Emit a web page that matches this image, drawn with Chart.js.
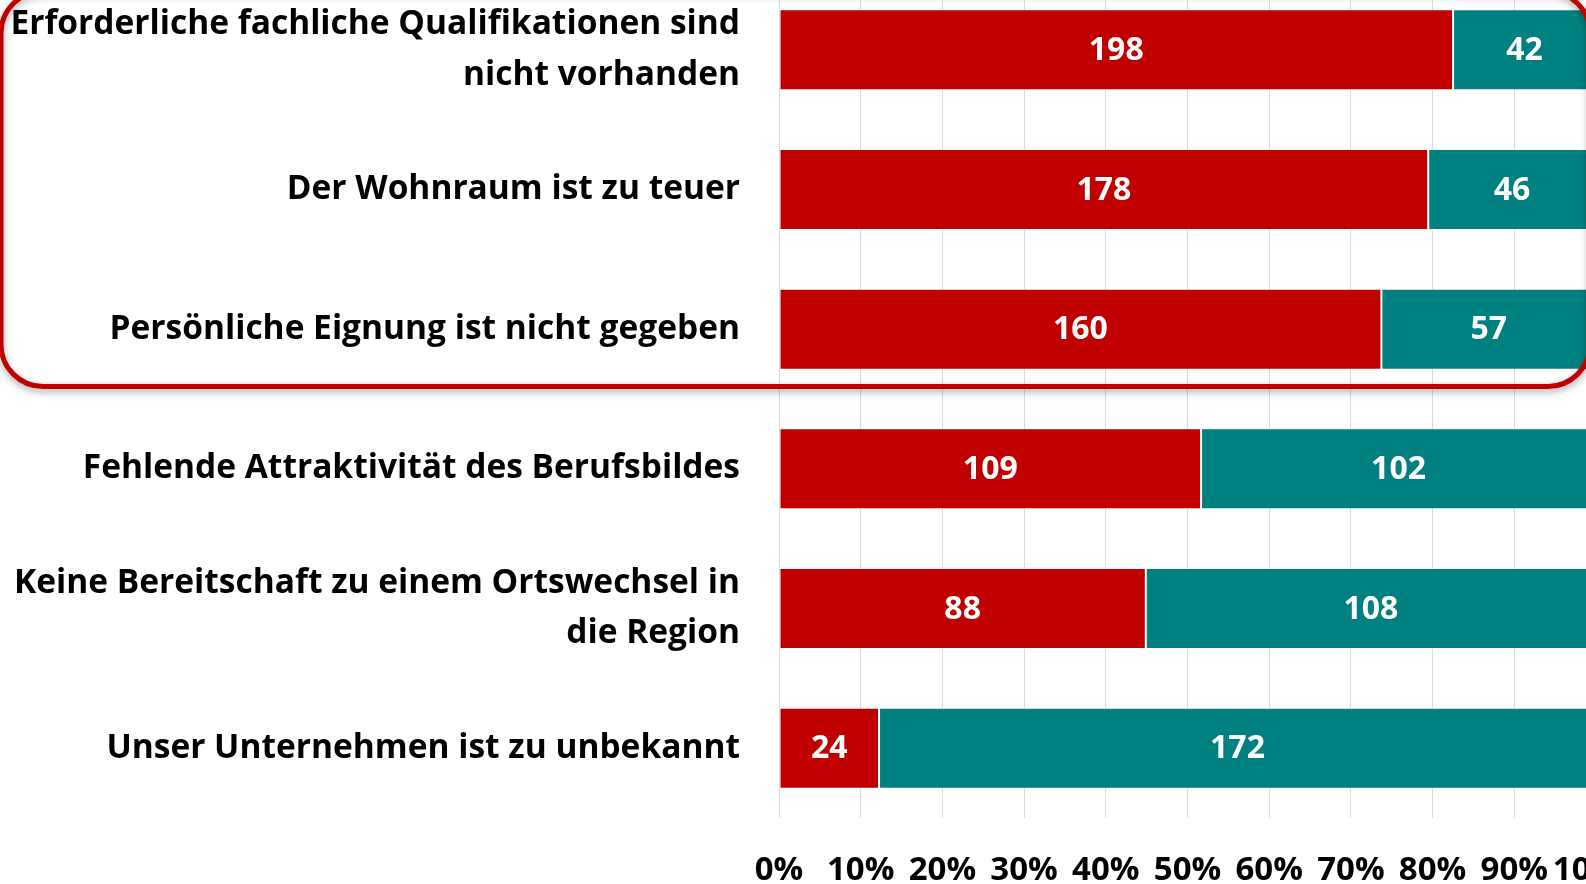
<!DOCTYPE html>
<html>
<head>
<meta charset="utf-8">
<script src="https://cdn.jsdelivr.net/npm/chart.js@4"></script>
<style>
	html, body { margin: 0; padding: 0; background: #fff; overflow: hidden; }
	#wrap { position: absolute; left: 0; top: -20px; width: 1596px; height: 908px; }
</style>
</head>
<body>
<div id="wrap"><canvas id="myChart"></canvas></div>
<script>
var categories = [
	["Erforderliche fachliche Qualifikationen sind", "nicht vorhanden"],
	"Der Wohnraum ist zu teuer",
	"Persönliche Eignung ist nicht gegeben",
	"Fehlende Attraktivität des Berufsbildes",
	["Keine Bereitschaft zu einem Ortswechsel in", "die Region"],
	"Unser Unternehmen ist zu unbekannt",
];
var redCounts = [198, 178, 160, 109, 88, 24];
var tealCounts = [42, 46, 57, 102, 108, 172];
var xTicks = [0, 0.1, 0.2, 0.3, 0.4, 0.5, 0.6, 0.7, 0.8, 0.9, 1];

var FONT = "'Open Sans'";

function share(counts, i) {
	return counts[i] / (redCounts[i] + tealCounts[i]);
}

// white count labels in the middle of each segment
var valueLabels = {
	id: "valueLabels",
	afterDatasetsDraw: function (chart) {
		var ctx = chart.ctx;
		ctx.save();
		ctx.font = "bold 32px " + FONT;
		ctx.fillStyle = "#ffffff";
		ctx.textAlign = "center";
		ctx.textBaseline = "middle";
		chart.data.datasets.forEach(function (ds, i) {
			chart.getDatasetMeta(i).data.forEach(function (bar, j) {
				var p = bar.getProps(["x", "y", "base"], true);
				ctx.fillText(ds.counts[j], (p.x + p.base) / 2, p.y + 1);
			});
		});
		ctx.restore();
	},
};

// red rounded frame around the first three categories
var frame = {
	id: "frame",
	afterDraw: function (chart) {
		var y = chart.scales.y;
		var step = y.getPixelForValue(1) - y.getPixelForValue(0);
		var top = y.getPixelForValue(0) - 0.42 * step;
		var bottom = y.getPixelForValue(2) + 0.41 * step;
		var left = 1;
		var right = chart.chartArea.right - 6;
		var r = 42;
		var ctx = chart.ctx;
		ctx.save();
		ctx.shadowColor = "rgba(0,0,0,0.35)";
		ctx.shadowBlur = 7;
		ctx.shadowOffsetY = 3;
		ctx.strokeStyle = "#C00000";
		ctx.lineWidth = 5;
		ctx.beginPath();
		ctx.roundRect(left, top, right - left, bottom - top, r);
		ctx.stroke();
		ctx.restore();
	},
};

var ctx = document.getElementById("myChart").getContext("2d");

var myChart = new Chart(ctx, {
	type: "bar",
	data: {
		labels: categories,
		datasets: [
			{
				label: "rot",
				data: redCounts.map(function (v, i) { return share(redCounts, i); }),
				counts: redCounts,
				backgroundColor: "#C00000",
				borderColor: "rgba(255,255,255,0.7)",
				borderWidth: 1,
				borderSkipped: false,
			},
			{
				label: "türkis",
				data: tealCounts.map(function (v, i) { return share(tealCounts, i); }),
				counts: tealCounts,
				backgroundColor: "#008080",
				borderColor: "rgba(255,255,255,0.7)",
				borderWidth: 1,
				borderSkipped: false,
			},
		],
	},
	options: {
		indexAxis: "y",
		responsive: true,
		maintainAspectRatio: false,
		animation: false,
		layout: { padding: 0 },
		datasets: {
			bar: { categoryPercentage: 1, barPercentage: 0.58 },
		},
		plugins: {
			legend: { display: false },
			tooltip: { enabled: false },
		},
		scales: {
			x: {
				stacked: true,
				min: 0,
				max: 1,
				afterBuildTicks: function (scale) {
					scale.ticks = xTicks.map(function (v) { return { value: v }; });
				},
				afterFit: function (scale) {
					scale.paddingLeft = 0;
					scale.paddingRight = 0;
					scale.height = 70;
				},
				grid: { color: "#d9d9d9", lineWidth: 1, drawTicks: false },
				border: { display: false },
				ticks: {
					padding: 33,
					color: "#000000",
					maxRotation: 0,
					autoSkip: false,
					font: { family: FONT, size: 33, weight: "bold", lineHeight: 1.2 },
					callback: function (v) {
						return Math.round(v * 100) + "%";
					},
				},
			},
			y: {
				stacked: true,
				afterFit: function (scale) {
					scale.width = 779;
					scale.paddingTop = 0;
					scale.paddingBottom = 0;
				},
				grid: { display: false, drawTicks: false },
				border: { display: false },
				ticks: {
					padding: 39,
					color: "#000000",
					autoSkip: false,
					font: { family: FONT, size: 33.5, weight: "bold", lineHeight: 1.51 },
				},
			},
		},
	},
	plugins: [valueLabels, frame],
});
</script>
</body>
</html>
